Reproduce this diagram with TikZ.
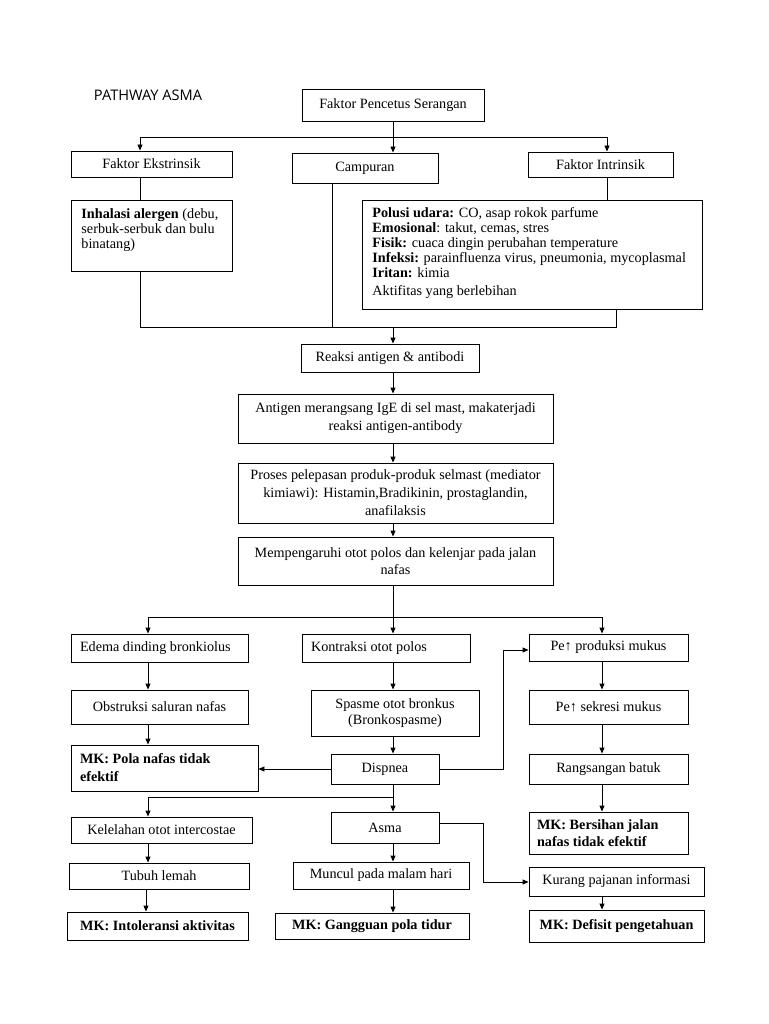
\documentclass[tikz,border=0pt]{standalone}
\usepackage{fontspec}
\setmainfont{Liberation Serif}
\newfontfamily\titlefont{Open Sans}
\usetikzlibrary{arrows.meta}
\newcommand\myfs[1][17]{\fontsize{14.2}{#1}\selectfont}
\begin{document}
\begin{tikzpicture}[x=1pt,y=-1pt,line width=0.9pt,
  box/.style={draw,inner sep=0pt,align=center,font=\myfs},
  lbox/.style={draw,inner ysep=0pt,align=flush left,font=\myfs},
  txt/.style={anchor=north west,inner sep=0pt,align=flush left},
  arr/.style={-{Triangle[length=6pt,width=5pt]}}]
\useasboundingbox (0,0) rectangle (768,1024);
\fill[white] (0,0) rectangle (768,1024);

\node[font={\titlefont\fontsize{14.6}{16}\selectfont}] (title) at (148,95) {PATHWAY ASMA};

% top part
\node[box,minimum width=182pt,minimum height=32pt] (pfs) at (393,105) {Faktor Pencetus Serangan};
\node[box,minimum width=161pt,minimum height=26pt] (ekst) at (151.5,164) {Faktor Ekstrinsik};
\node[box,minimum width=146pt,minimum height=30pt] (camp) at (365,168) {Campuran};
\node[box,minimum width=145pt,minimum height=25pt] (intr) at (600.5,164.5) {Faktor Intrinsik};

\node[draw,inner sep=0pt,minimum width=161pt,minimum height=71pt] (inh) at (151.5,235.5) {};
\node[txt,font={\myfs[15]}] (inhT) at (81,208) {\textbf{Inhalasi alergen} (debu,\\serbuk-serbuk dan bulu\\binatang)};

\node[draw,inner sep=0pt,minimum width=340pt,minimum height=109pt] (intrT) at (532,254.5) {};
\node[txt,font={\myfs[15]}] (intrTT) at (372,207) {\textbf{Polusi udara:} CO, asap rokok parfume\\
\textbf{Emosional}: takut, cemas, stres\\
\textbf{Fisik:} cuaca dingin perubahan temperature\\
\textbf{Infeksi:} parainfluenza virus, pneumonia, mycoplasmal\\
\textbf{Iritan:} kimia\\[3pt]
Aktifitas yang berlebihan};

\coordinate (j1) at (393,137);
\coordinate (ja) at (140,137);
\coordinate (jb) at (607,137);
\draw[arr] (pfs.south -| j1) -- (camp.north -| j1);
\draw[arr] (j1) -- (ja) -- (ekst.north -| ja);
\draw[arr] (j1) -- (jb) -- (intr.north -| jb);
\draw (ekst.south -| ja) -- (inh.north -| ja);
\draw (intr.south -| jb) -- (intrT.north -| jb);

\coordinate (jc) at (140,327);
\coordinate (jd) at (616,327);
\coordinate (je) at (393,327);
\coordinate (jf) at (332,328);
\draw (inh.south -| jc) -- (jc) -- (jd) -- (intrT.south -| jd);
\draw (camp.south -| jf) -- (jf);

% middle chain
\node[box,minimum width=178pt,minimum height=28pt] (reaksi) at (390,358) {Reaksi antigen \& antibodi};
\node[box,font={\myfs[18]},minimum width=315pt,minimum height=49pt] (antigen) at (395.5,418.5) {Antigen merangsang IgE di sel mast, makaterjadi\\reaksi antigen-antibody};
\node[box,font={\myfs[18]},minimum width=315pt,minimum height=60pt] (proses) at (395.5,493) {Proses pelepasan produk-produk selmast (mediator\\kimiawi): Histamin,Bradikinin, prostaglandin,\\anafilaksis};
\node[box,font={\myfs[17]},minimum width=315pt,minimum height=48pt] (mempeng) at (395.5,561) {Mempengaruhi otot polos dan kelenjar pada jalan\\nafas};

\draw[arr] (je) -- (reaksi.north -| je);
\draw[arr] (reaksi.south -| je) -- (antigen.north -| je);
\draw[arr] (antigen.south -| je) -- (proses.north -| je);
\draw[arr] (proses.south -| je) -- (mempeng.north -| je);

% lower rows
\node[lbox,inner xsep=9pt,text width=159pt,minimum height=28pt] (edema) at (159.5,648) {Edema dinding bronkiolus};
\node[lbox,inner xsep=9pt,text width=150pt,minimum height=28pt] (kontr) at (386,648) {Kontraksi otot polos};
\node[box,minimum width=159pt,minimum height=27pt] (peprod) at (608.5,647.5) {Pe↑ produksi mukus};

\node[box,minimum width=177pt,minimum height=34pt] (obstr) at (159.5,707) {Obstruksi saluran nafas};
\node[box,font={\myfs[16]},minimum width=168pt,minimum height=46pt] (spasme) at (395,713) {Spasme otot bronkus\\(Bronkospasme)};
\node[box,minimum width=159pt,minimum height=34pt] (pesekr) at (608.5,707) {Pe↑ sekresi mukus};

\node[lbox,font={\myfs[18]},inner xsep=9pt,text width=169pt,minimum height=46pt] (mkpola) at (164.5,768) {\textbf{MK: Pola nafas tidak}\\\textbf{efektif}};
\node[box,minimum width=108pt,minimum height=30pt] (dispnea) at (385,769) {Dispnea};
\node[box,minimum width=159pt,minimum height=30pt] (rangs) at (608.5,769) {Rangsangan batuk};

\node[lbox,font={\myfs[17]},inner xsep=8pt,text width=143pt,minimum height=42pt] (mkbers) at (608.5,833) {\textbf{MK: Bersihan jalan}\\\textbf{nafas tidak efektif}};
\node[box,minimum width=181pt,minimum height=26pt] (kelel) at (161.5,830) {Kelelahan otot intercostae};
\node[box,minimum width=108pt,minimum height=31pt] (asma) at (385,827.5) {Asma};

\node[box,minimum width=180pt,minimum height=26pt] (tubuh) at (159,876) {Tubuh lemah};
\node[box,minimum width=176pt,minimum height=27pt] (muncul) at (381,875.5) {Muncul pada malam hari};
\node[box,minimum width=175pt,minimum height=29pt] (kurang) at (616.5,881.5) {Kurang pajanan informasi};

\node[box,font={\myfs\bfseries},minimum width=181pt,minimum height=28pt] (mkinto) at (157.5,926) {MK: Intoleransi aktivitas};
\node[box,font={\myfs\bfseries},minimum width=194pt,minimum height=26pt] (mkgang) at (372,926) {MK: Gangguan pola tidur};
\node[box,font={\myfs\bfseries},minimum width=175pt,minimum height=32pt] (mkdef) at (616.5,926) {MK: Defisit pengetahuan};

% branching under Mempengaruhi
\coordinate (jg) at (393,617);
\coordinate (jh) at (148,617);
\coordinate (ji) at (602,617);
\draw (mempeng.south -| jg) -- (jg);
\draw[arr] (jg) -- (jh) -- (edema.north -| jh);
\draw[arr] (jg) -- (kontr.north -| jg);
\draw[arr] (jg) -- (ji) -- (peprod.north -| ji);

\draw[arr] (edema.south -| jh) -- (obstr.north -| jh);
\draw[arr] (obstr.south -| jh) -- (mkpola.north -| jh);
\draw[arr] (kontr.south -| jg) -- (spasme.north -| jg);
\draw[arr] (spasme.south -| jg) -- (dispnea.north -| jg);
\draw[arr] (peprod.south -| ji) -- (pesekr.north -| ji);
\draw[arr] (pesekr.south -| ji) -- (rangs.north -| ji);
\draw[arr] (rangs.south -| ji) -- (mkbers.north -| ji);

\draw[arr] (dispnea.west) -- (dispnea.west -| mkpola.east);
\coordinate (jk) at (503,650);
\draw[arr] (dispnea.east) -| (jk) -- (jk -| peprod.west);

\coordinate (jl) at (393,797);
\coordinate (jm) at (148,797);
\draw (dispnea.south -| jl) -- (jl);
\draw[arr] (jl) -- (asma.north -| jl);
\draw[arr] (jl) -- (jm) -- (kelel.north -| jm);

\coordinate (jp) at (146,0);
\draw[arr] (kelel.south -| jm) -- (tubuh.north -| jm);
\draw[arr] (tubuh.south -| jp) -- (mkinto.north -| jp);
\draw[arr] (asma.south -| jl) -- (muncul.north -| jl);
\draw[arr] (muncul.south -| jl) -- (mkgang.north -| jl);

\coordinate (jn) at (483,882);
\draw[arr] ([yshift=4.5pt]asma.east) -| (jn) -- (jn -| kurang.west);
\draw[arr] (kurang.south -| ji) -- (mkdef.north -| ji);
\end{tikzpicture}
\end{document}
